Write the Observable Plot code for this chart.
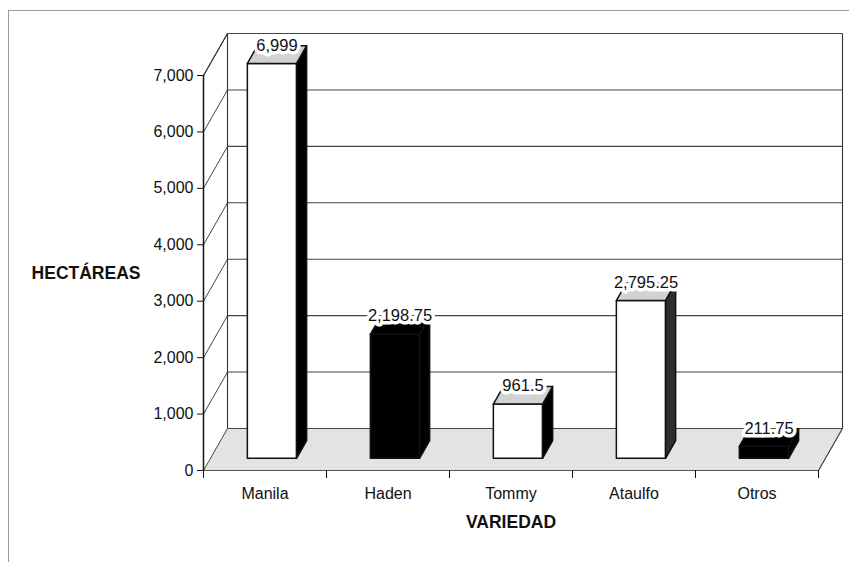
<!DOCTYPE html>
<html>
<head>
<meta charset="utf-8">
<script src="https://cdn.jsdelivr.net/npm/d3@7"></script>
<script src="https://cdn.jsdelivr.net/npm/@observablehq/plot@0.6"></script>
<style>
  body { margin: 0; background: #fff; }
  #wrap { position: relative; width: 849px; height: 562px; overflow: hidden; }
  #border { position: absolute; left: 8px; top: 10px; right: -4px; bottom: -4px;
            border-left: 1px solid #9a9a9a; border-top: 1px solid #9a9a9a; }
  #chart { position: absolute; left: 0; top: 0; }
</style>
</head>
<body>
<div id="wrap"><div id="border"></div><div id="chart"></div></div>
<script>
// Superficie sembrada de mango por variedad (hectáreas)
const variedades = ["Manila", "Haden", "Tommy", "Ataulfo", "Otros"];
const hectareas  = [6999, 2198.75, 961.5, 2795.25, 211.75];
const yTicks     = [0, 1000, 2000, 3000, 4000, 5000, 6000, 7000];

// Colores de cada barra: cara frontal, cara lateral y tapa
const colorFrente = ["white", "black", "white", "white", "black"];
const colorLado   = ["black", "black", "black", "#2e2e2e", "black"];
const colorTapa   = ["#d2d2d2", "black", "#d2d2d2", "#d2d2d2", "black"];

// Proyección oblicua: desplazamiento de la profundidad completa en unidades de datos
const KX = 24 / 123;          // en unidades de categoría
const KY = 42 * 7000 / 395;   // en hectáreas
const X0 = -0.5, X1 = variedades.length - 0.5, YMAX = 7000;
const pt = ([x, y, d]) => ({x: x + d * KX, y: y + d * KY});

// Polígonos cerrados
const poligono = (id, fill, esquinas) =>
  esquinas.concat([esquinas[0]]).map(p => ({id, fill, ...pt(p)}));

const piso = poligono("piso", "#e3e3e3", [[X0, 0, 0], [X1, 0, 0], [X1, 0, 1], [X0, 0, 1]]);
const paredIzq = poligono("izq", "white", [[X0, 0, 0], [X0, YMAX, 0], [X0, YMAX, 1], [X0, 0, 1]]);
const paredFondo = poligono("fondo", "white", [[X0, 0, 1], [X1, 0, 1], [X1, YMAX, 1], [X0, YMAX, 1]]);

// Aristas del recinto
const aristas = [
  [[X0, YMAX, 0], [X0, YMAX, 1]],
  [[X0, 0, 1], [X0, YMAX, 1]],
  [[X1, 0, 1], [X1, YMAX, 1]],
  [[X1, 0, 0], [X1, 0, 1]]
].map(([a, b]) => ({a: pt(a), b: pt(b)}));

// Caras de las barras 3D
const HALF = 0.2, D0 = 0.29, D1 = 0.71;
const caras = [];
variedades.forEach((c, i) => {
  const v = hectareas[i];
  caras.push(...poligono(c + "-frente", colorFrente[i],
    [[i - HALF, 0, D0], [i + HALF, 0, D0], [i + HALF, v, D0], [i - HALF, v, D0]]));
  caras.push(...poligono(c + "-lado", colorLado[i],
    [[i + HALF, 0, D0], [i + HALF, 0, D1], [i + HALF, v, D1], [i + HALF, v, D0]]));
  caras.push(...poligono(c + "-tapa", colorTapa[i],
    [[i - HALF, v, D0], [i + HALF, v, D0], [i + HALF, v, D1], [i - HALF, v, D1]]));
});
const rellenos = [...new Set(caras.map(d => d.fill))];

const fmt = d3.format(",");
const etiquetas = variedades.map((c, i) => ({...pt([i, hectareas[i], 0.5]), texto: fmt(hectareas[i])}));

const plot = Plot.plot({
  width: 849,
  height: 562,
  marginLeft: 203,
  marginRight: 31,
  marginTop: 75,
  marginBottom: 92,
  style: {fontFamily: "Arial, 'Liberation Sans', sans-serif", fontSize: "16px", color: "#111", background: "transparent"},
  x: {type: "linear", domain: [X0, X1]},
  y: {domain: [0, YMAX]},
  marks: [
    // paredes y piso
    Plot.line(piso, {x: "x", y: "y", fill: "#e3e3e3", stroke: "none"}),
    Plot.line(paredIzq, {x: "x", y: "y", fill: "white", stroke: "none"}),
    Plot.line(paredFondo, {x: "x", y: "y", fill: "white", stroke: "none"}),
    // líneas de división en la pared del fondo
    Plot.link(yTicks, {
      x1: () => X0 + KX, x2: () => X1 + KX,
      y1: v => v + KY, y2: v => v + KY,
      stroke: "#444", strokeWidth: 1.1
    }),
    // líneas de división en la pared izquierda
    Plot.link(yTicks, {
      x1: () => X0, x2: () => X0 + KX,
      y1: v => v, y2: v => v + KY,
      stroke: "#444", strokeWidth: 1
    }),
    Plot.link(aristas, {
      x1: d => d.a.x, y1: d => d.a.y, x2: d => d.b.x, y2: d => d.b.y,
      stroke: "#333", strokeWidth: 1.1
    }),
    // ejes frontales
    Plot.ruleX([X0], {y1: 0, y2: YMAX, stroke: "#111", strokeWidth: 1.5}),
    Plot.ruleY([0], {x1: X0, x2: X1, stroke: "#555", strokeWidth: 1.2}),
    // barras
    ...rellenos.map(f => Plot.line(caras.filter(d => d.fill === f), {
      x: "x", y: "y", z: "id", fill: f, stroke: "#111", strokeWidth: 1.5, strokeLinejoin: "round"
    })),
    // valores, con fondo blanco
    Plot.text(etiquetas, {
      x: "x", y: "y", text: "texto", dy: -4, lineAnchor: "bottom",
      fontSize: 16.5, fill: "#111", stroke: "white", strokeWidth: 7,
      strokeLinejoin: "round", paintOrder: "stroke"
    }),
    // ejes
    Plot.axisY({ticks: yTicks, tickFormat: fmt, tickSize: 6, tickPadding: 4, label: null, fontSize: 16}),
    Plot.axisX({ticks: d3.range(X0, X1 + 0.01, 1), tickSize: 8, tickFormat: () => "", label: null}),
    Plot.axisX({ticks: d3.range(variedades.length), tickSize: 0, tickPadding: 17,
                tickFormat: i => variedades[i], label: null, fontSize: 16}),
    // títulos de los ejes
    Plot.text(["HECTÁREAS"], {frameAnchor: "left", dx: -63, textAnchor: "end", lineAnchor: "middle",
                              fontWeight: "bold", fontSize: 17.5}),
    Plot.text(["VARIEDAD"], {frameAnchor: "bottom", dy: 52, lineAnchor: "middle",
                             fontWeight: "bold", fontSize: 17.5})
  ]
});
document.getElementById("chart").append(plot);
</script>
</body>
</html>
